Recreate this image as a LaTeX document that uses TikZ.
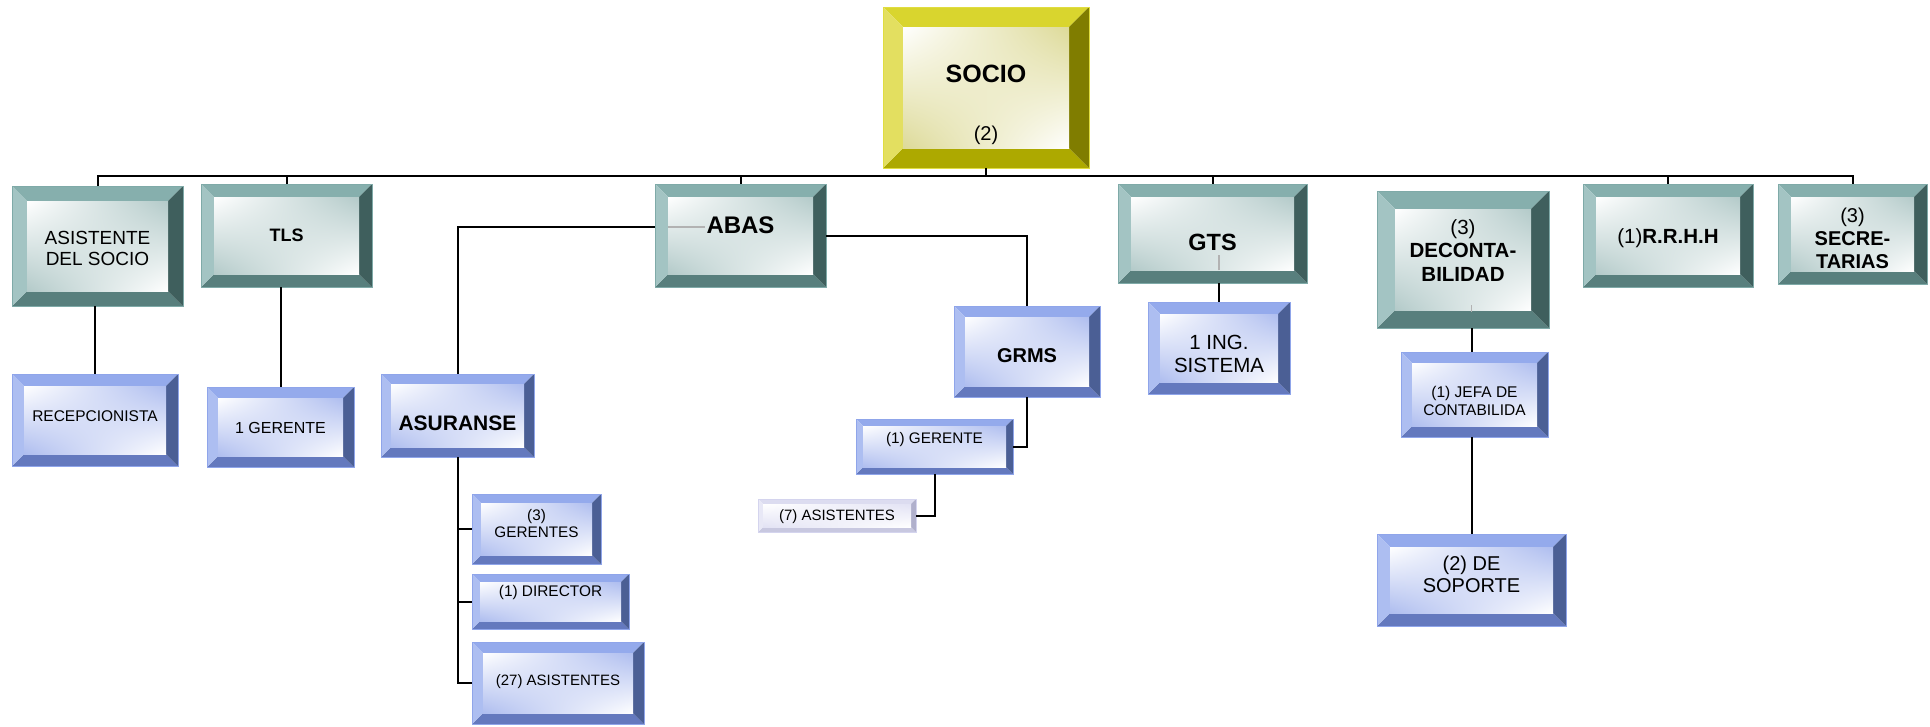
\documentclass[tikz,border=0pt]{standalone}
\usepackage{fontspec}
\setmainfont{Liberation Sans}
\usetikzlibrary{fit,shadings}
\definecolor{tealT}{HTML}{86AFAD}
\definecolor{tealL}{HTML}{A3C4C3}
\definecolor{tealB}{HTML}{587F7D}
\definecolor{tealR}{HTML}{3F5F5D}
\definecolor{tealF}{HTML}{B3CAC9}
\definecolor{tealE}{HTML}{7FAAA8}
\definecolor{blueT}{HTML}{94AAEC}
\definecolor{blueL}{HTML}{ADBEF1}
\definecolor{blueB}{HTML}{6479BE}
\definecolor{blueR}{HTML}{4B5F95}
\definecolor{blueF}{HTML}{AEBDEF}
\definecolor{blueE}{HTML}{8FA5EA}
\definecolor{yelT}{HTML}{D9D52E}
\definecolor{yelL}{HTML}{E3DF60}
\definecolor{yelB}{HTML}{ADA900}
\definecolor{yelR}{HTML}{807D00}
\definecolor{yelF}{HTML}{DDDA98}
\definecolor{yelE}{HTML}{E0DD40}
\definecolor{lavT}{HTML}{DCDCF0}
\definecolor{lavL}{HTML}{E8E8F6}
\definecolor{lavB}{HTML}{C8C8E0}
\definecolor{lavR}{HTML}{B0B0CC}
\definecolor{lavF}{HTML}{E2E2F4}
\definecolor{lavE}{HTML}{D4D4EE}
\newcommand\bevbox[7]{%
  \coordinate (#1-a) at (#2,#3);
  \coordinate (#1-b) at (#4,#5);
  \fill[#7T] (#2,#3) -- (#4,#3) -- (#4-#6,#3+#6) -- (#2+#6,#3+#6) -- cycle;
  \fill[#7B] (#2,#5) -- (#4,#5) -- (#4-#6,#5-#6) -- (#2+#6,#5-#6) -- cycle;
  \fill[#7L] (#2,#3) -- (#2+#6,#3+#6) -- (#2+#6,#5-#6) -- (#2,#5) -- cycle;
  \fill[#7R] (#4,#3) -- (#4-#6,#3+#6) -- (#4-#6,#5-#6) -- (#4,#5) -- cycle;
  \shade[upper left=white, upper right=#7F, lower left=#7F, lower right=white]
     (#2+#6,#3+#6) rectangle (#4-#6,#5-#6);
  \node[fit=(#1-a)(#1-b), inner sep=0pt, draw=#7E, line width=0.7pt] (#1) {};
}
\tikzset{
  conn/.style={draw=black, line width=2pt},
  ghost/.style={draw=black!30, line width=1.2pt},
  txt/.style={inner sep=0pt, align=center, text=black},
}
\newcommand\fs[2]{\fontsize{#1pt}{#2pt}\selectfont}
\begin{document}
\begin{tikzpicture}[x=1pt,y=-1pt]
\useasboundingbox (0,0) rectangle (1930,726);
\fill[white] (0,0) rectangle (1930,726);
% boxes
\bevbox{SOCIO}{883}{7}{1089}{168}{20}{yel}
\bevbox{ASI}{12}{186}{183}{306}{15}{teal}
\bevbox{TLS}{201}{184}{372}{287}{13}{teal}
\bevbox{RECEP}{12}{374}{178}{466}{12}{blue}
\bevbox{GA}{207}{387}{354}{467}{11}{blue}
\bevbox{ABAS}{655}{184}{826}{287}{13}{teal}
\bevbox{ASUR}{381}{374}{534}{457}{10}{blue}
\bevbox{GRMS}{954}{306}{1100}{397}{11}{blue}
\bevbox{GERB}{856}{419}{1013}{474}{7}{blue}
\bevbox{ASS}{758}{499}{916}{532}{5}{lav}
\bevbox{GTS}{1118}{184}{1307}{283}{13}{teal}
\bevbox{ING}{1148}{302}{1290}{394}{12}{blue}
\bevbox{DECON}{1377}{191}{1549}{328}{18}{teal}
\bevbox{JEFA}{1401}{352}{1548}{437}{11}{blue}
\bevbox{SOP}{1377}{534}{1566}{626}{13}{blue}
\bevbox{RRHH}{1583}{184}{1753}{287}{13}{teal}
\bevbox{SEC}{1778}{184}{1927}{284}{13}{teal}
\bevbox{GER3}{472}{494}{601}{564}{9}{blue}
\bevbox{DIR}{472}{574}{629}{629}{8}{blue}
\bevbox{AS27}{472}{642}{644}{724}{11}{blue}
% connectors
\coordinate (bar) at (0,176);
\draw[conn] (ASI.north) -- (ASI.north |- bar) -- (SEC.north |- bar) -- (SEC.north);
\draw[conn] (SOCIO.south) -- (SOCIO.south |- bar);
\draw[conn] (TLS.north |- bar) -- (TLS.north);
\draw[conn] (ABAS.north |- bar) -- (ABAS.north);
\draw[conn] (GTS.north |- bar) -- (GTS.north);
\draw[conn] (RRHH.north |- bar) -- (RRHH.north);
\draw[conn] (RECEP.north |- ASI.south) -- (RECEP.north);
\draw[conn] (GA.north |- TLS.south) -- (GA.north);
\draw[conn] ([yshift=8.5pt]ABAS.west) -| (ASUR.north);
\draw[ghost] ([xshift=13pt,yshift=8.5pt]ABAS.west) -- ++(37,0);
\draw[conn] ([yshift=-0.5pt]ABAS.east) -| (GRMS.north);
\draw[conn] (GRMS.south) |- (GERB.east);
\draw[conn] (GERB.south) |- (ASS.east);
\draw[conn] (ING.north |- GTS.south) -- (ING.north);
\draw[ghost] ([yshift=13pt]ING.north |- GTS.south) -- ++(0,-15);
\draw[conn] (SOP.north |- DECON.south) -- (SOP.north |- JEFA.north);
\draw[ghost] ([yshift=16pt]SOP.north |- DECON.south) -- ++(0,-7);
\draw[conn] (SOP.north |- JEFA.south) -- (SOP.north);
\draw[conn] (ASUR.south) |- (AS27.west);
\draw[conn] (ASUR.south |- GER3.west) -- (GER3.west);
\draw[conn] (ASUR.south |- DIR.west) -- (DIR.west);
% texts
\node[txt, font=\fs{25}{28}\bfseries] (SOCIO-t) at (986,74) {SOCIO};
\node[txt, font=\fs{20}{23}] (SOCIO-n) at (986,135) {(2)};
\node[txt, font=\fs{19}{21}] (ASI-t) at (97.5,248) {ASISTENTE\\DEL SOCIO};
\node[txt, font=\fs{18}{21}\bfseries] (TLS-t) at (286.5,235) {TLS};
\node[txt, font=\fs{15.5}{18}] (RECEP-t) at (95,416) {RECEPCIONISTA};
\node[txt, font=\fs{16}{18}] (GA-t) at (280.5,428) {1 GERENTE};
\node[txt, font=\fs{24}{27}\bfseries] (ABAS-t) at (740.5,225) {ABAS};
\node[txt, font=\fs{21}{24}\bfseries] (ASUR-t) at (457.5,423) {ASURANSE};
\node[txt, font=\fs{20}{23}\bfseries] (GRMS-t) at (1027,356) {GRMS};
\node[txt, font=\fs{15.3}{18}] (GERB-t) at (934.5,440) {(1) GERENTE};
\node[txt, font=\fs{15}{18}] (ASS-t) at (837,517) {(7) ASISTENTES};
\node[txt, font=\fs{23.5}{26}\bfseries] (GTS-t) at (1212.5,242) {GTS};
\node[txt, font=\fs{20.5}{23}] (ING-t) at (1219,353.5) {1 ING.\\SISTEMA};
\node[txt, font=\fs{20.5}{23.5}] (DECON-t) at (1463,250.5) {(3)\\\textbf{DECONTA-}\\\textbf{BILIDAD}};
\node[txt, font=\fs{15.5}{18}] (JEFA-t) at (1474.5,401) {(1) JEFA DE\\CONTABILIDA};
\node[txt, font=\fs{20}{21.5}] (SOP-t) at (1471.5,574.5) {(2) DE\\SOPORTE};
\node[txt, font=\fs{20.5}{23}] (RRHH-t) at (1668,238) {(1)\textbf{R.R.H.H}};
\node[txt, font=\fs{20}{23}] (SEC-t) at (1852.5,238) {(3)\\\textbf{SECRE-}\\\textbf{TARIAS}};
\node[txt, font=\fs{15.3}{17}] (GER3-t) at (536.5,523.5) {(3)\\GERENTES};
\node[txt, font=\fs{15.4}{18}] (DIR-t) at (550.5,593) {(1) DIRECTOR};
\node[txt, font=\fs{15}{18}] (AS27-t) at (558,682) {(27) ASISTENTES};
\end{tikzpicture}
\end{document}
